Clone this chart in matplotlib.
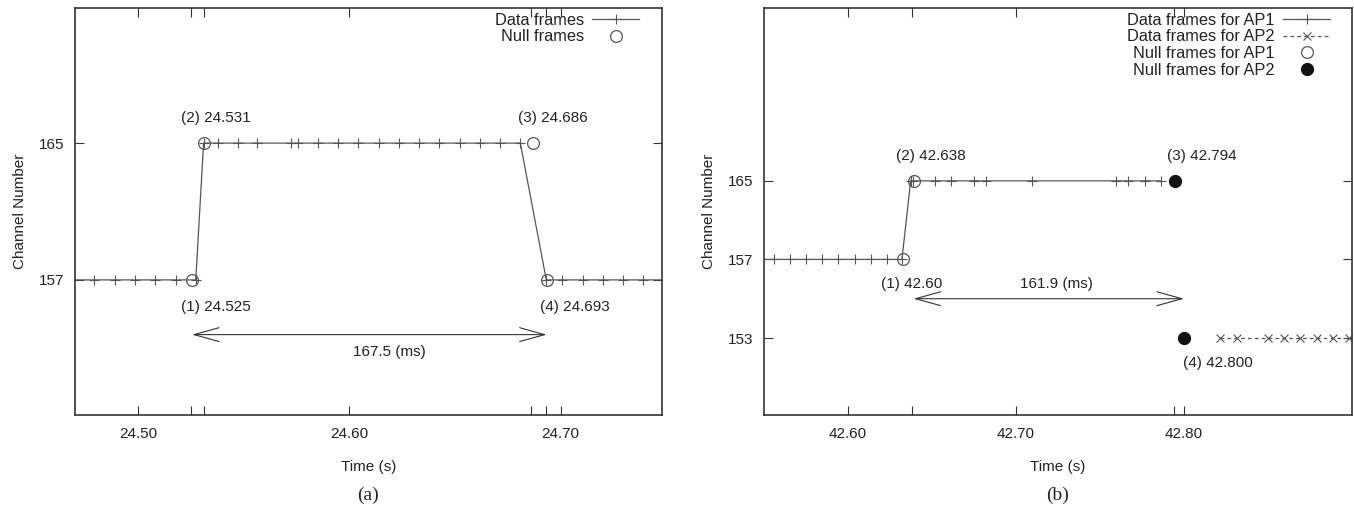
import matplotlib
matplotlib.use("Agg")
import matplotlib.pyplot as plt
from matplotlib.patches import ArrowStyle

plt.rcParams['font.family'] = ['Liberation Sans', 'DejaVu Sans']
plt.rcParams['font.size'] = 11

# ---------------- data: panel (a) ----------------
a_data_t = [24.462, 24.4791, 24.4891, 24.4986, 24.5081, 24.5180, 24.5272,
            24.5309, 24.5376, 24.5470, 24.5563, 24.5721, 24.5757, 24.5853,
            24.5947, 24.6042, 24.6138, 24.6234, 24.6328, 24.6424, 24.6522,
            24.6618, 24.6715, 24.6809,
            24.6932, 24.7005, 24.7104, 24.7199, 24.7294, 24.7389, 24.756]
a_data_ch = [157] * 7 + [165] * 17 + [157] * 7
a_null_t = [24.5254, 24.5313, 24.6869, 24.6934]
a_null_ch = [157, 165, 165, 157]
a_xticks = [24.50, 24.60, 24.70]
a_xminor = [24.525, 24.531, 24.686, 24.693]
a_yticks = [157, 165]
a_labels = ["(1) 24.525", "(2) 24.531", "(3) 24.686", "(4) 24.693"]
a_span_label = "167.5 (ms)"

# ---------------- data: panel (b) ----------------
b_ap1_t = [42.546, 42.5560, 42.5657, 42.5751, 42.5848, 42.5943, 42.6040,
           42.6135, 42.6232, 42.6321,
           42.6373, 42.6389, 42.6518, 42.6613, 42.6752, 42.6820, 42.7097,
           42.7595, 42.7668, 42.7768, 42.7861]
b_ap1_ch = [157] * 10 + [165] * 11
b_ap2_t = [42.8215, 42.8315, 42.8502, 42.8598, 42.8693, 42.8792, 42.8887,
           42.8985, 42.912]
b_ap2_ch = [153] * 9
b_null1_t = [42.6325, 42.6390]
b_null1_ch = [157, 165]
b_null2_t = [42.7945, 42.8000]
b_null2_ch = [165, 153]
b_channels = [153, 157, 165]
b_xticks = [42.60, 42.70, 42.80]
b_xminor = [42.638, 42.794]
b_labels = ["(1) 42.60", "(2) 42.638", "(3) 42.794", "(4) 42.800"]
b_span_label = "161.9 (ms)"

LINE = '#555555'
TXT = '#222222'

fig = plt.figure(figsize=(13.54, 5.15), dpi=100)
W, H = 1354, 515
def axrect(x0, x1, y0, y1):
    return [x0 / W, 1 - y1 / H, (x1 - x0) / W, (y1 - y0) / H]

axa = fig.add_axes(axrect(75, 662, 8, 415))
axb = fig.add_axes(axrect(764, 1352, 8, 415))

def style(ax):
    for s in ax.spines.values():
        s.set_linewidth(1.2)
        s.set_color('#333333')
    ax.tick_params(which='both', direction='in', top=True, right=True,
                   length=6.5, width=0.8, color='#333333', labelcolor=TXT,
                   labelsize=11)
    ax.tick_params(axis='x', which='both', pad=9)
    ax.tick_params(axis='y', which='both', pad=8)
    ax.set_xlabel("Time (s)", color=TXT, fontsize=11, labelpad=13)
    ax.set_ylabel("Channel Number", color=TXT, fontsize=11, labelpad=8)

def add_legend(ax, dx_px, dy_px):
    bb = ax.get_position()
    ax_w = bb.width * W
    ax_h = bb.height * H
    leg = ax.legend(loc='upper right',
                    bbox_to_anchor=(1.0 - dx_px / ax_w, 1.0 + dy_px / ax_h),
                    markerfirst=False, frameon=False, handlelength=2.9,
                    handletextpad=0.5, labelspacing=0.1, borderaxespad=0.25,
                    fontsize=11.8)
    for t in leg.get_texts():
        t.set_color(TXT)

# ---------------- panel (a) ----------------
axa.plot(a_data_t, a_data_ch, color=LINE, lw=0.9, marker='+', ms=7,
         mew=0.8, label="Data frames")
axa.plot(a_null_t, a_null_ch, ls='none', marker='o', ms=8.5, mfc='none',
         mec=LINE, mew=0.9, label="Null frames")
axa.set_xlim(24.470, 24.748)
axa.set_ylim(149.1, 172.9)
axa.set_xticks(a_xticks)
axa.set_xticklabels([f"{v:.2f}" for v in a_xticks])
axa.set_xticks(a_xminor, minor=True)
axa.set_yticks(a_yticks)
style(axa)

axa.text(24.520, 155.42, a_labels[0], ha='left', va='center', color=TXT)
axa.text(24.520, 166.47, a_labels[1], ha='left', va='center', color=TXT)
axa.text(24.680, 166.47, a_labels[2], ha='left', va='center', color=TXT)
axa.text(24.690, 155.42, a_labels[3], ha='left', va='center', color=TXT)
arrow_style = ArrowStyle('<->', head_length=1.8, head_width=0.5)
axa.annotate('', xy=(a_null_t[3], 153.8), xytext=(a_null_t[0], 153.8),
             arrowprops=dict(arrowstyle=arrow_style, color='#333333', lw=0.8,
                             shrinkA=0, shrinkB=0, mutation_scale=10))
axa.text(24.619, 152.8, a_span_label, ha='center', va='center', color=TXT)
add_legend(axa, 12, 6)

# ---------------- panel (b) ----------------
ymap = {c: i for i, c in enumerate(b_channels)}
axb.plot(b_ap1_t, [ymap[c] for c in b_ap1_ch], color=LINE, lw=0.9,
         marker='+', ms=7, mew=0.8, label="Data frames for AP1")
axb.plot(b_ap2_t, [ymap[c] for c in b_ap2_ch], color=LINE, lw=0.9,
         ls=(0, (3, 2.5)), marker='x', ms=6, mew=0.8,
         label="Data frames for AP2")
axb.plot(b_null1_t, [ymap[c] for c in b_null1_ch], ls='none', marker='o',
         ms=8.5, mfc='none', mec=LINE, mew=0.9, label="Null frames for AP1")
axb.plot(b_null2_t, [ymap[c] for c in b_null2_ch], ls='none', marker='o',
         ms=8.5, mfc='#111111', mec='#111111', label="Null frames for AP2")
axb.set_xlim(42.55, 42.90)
axb.set_ylim(-0.98, 4.2)
axb.set_xticks(b_xticks)
axb.set_xticklabels([f"{v:.2f}" for v in b_xticks])
axb.set_xticks(b_xminor, minor=True)
axb.set_yticks(range(len(b_channels)))
axb.set_yticklabels([str(c) for c in b_channels])
style(axb)

axb.text(42.6196, 0.69, b_labels[0], ha='left', va='center', color=TXT)
axb.text(42.6283, 2.31, b_labels[1], ha='left', va='center', color=TXT)
axb.text(42.7900, 2.31, b_labels[2], ha='left', va='center', color=TXT)
axb.text(42.7997, -0.32, b_labels[3], ha='left', va='center', color=TXT)
axb.annotate('', xy=(42.800, 0.50), xytext=(42.639, 0.50),
             arrowprops=dict(arrowstyle=arrow_style, color='#333333', lw=0.8,
                             shrinkA=0, shrinkB=0, mutation_scale=10))
axb.text(42.7238, 0.69, b_span_label, ha='center', va='center', color=TXT)
add_legend(axb, 11, 6)

fig.text(368 / W, 1 - 495 / H, "(a)", ha='center', va='center',
         family=['Liberation Serif', 'DejaVu Serif'], fontsize=14, color=TXT)
fig.text(1058 / W, 1 - 495 / H, "(b)", ha='center', va='center',
         family=['Liberation Serif', 'DejaVu Serif'], fontsize=14, color=TXT)

fig.savefig("out.png", dpi=100)
